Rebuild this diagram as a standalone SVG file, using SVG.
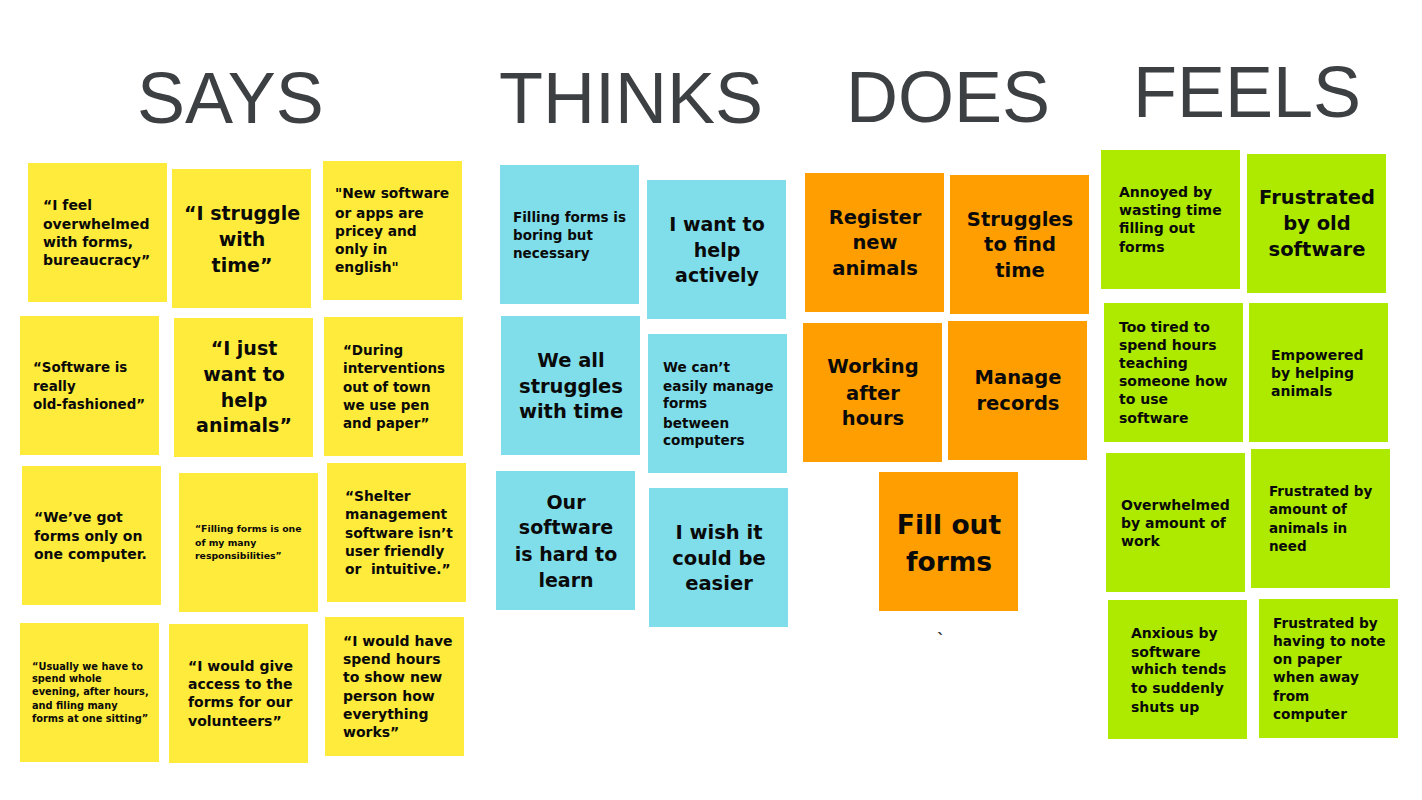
<svg xmlns="http://www.w3.org/2000/svg" width="1422" height="800" viewBox="0 0 1422 800">
<style>
.bg{fill:#ffffff}
.y{fill:#ffeb3b}
.c{fill:#80deea}
.o{fill:#ff9e00}
.g{fill:#aeea00}
.h{font-family:"Liberation Sans",Arial,sans-serif;font-size:72px;fill:#3d4043}
text.n{font-family:"DejaVu Sans","Noto Sans",sans-serif;font-weight:bold;fill:#0a0a0a}
.m{text-anchor:middle}
.pre{white-space:pre}
</style>
<rect class="bg" x="0" y="0" width="1422" height="800"/>
<g id="titles">
<text class="h" x="137" y="123">SAYS</text>
<text class="h" x="499" y="123">THINKS</text>
<text class="h" x="846" y="122">DOES</text>
<text class="h" x="1133" y="117">FEELS</text>
</g>
<g id="says">
<g id="s1"><rect class="y" x="28" y="163" width="139" height="139"/>
<text class="n" font-size="14"><tspan x="43" y="210">“I feel</tspan><tspan x="43" y="229">overwhelmed</tspan><tspan x="43" y="247">with forms,</tspan><tspan x="43" y="265">bureaucracy”</tspan></text></g>
<g id="s2"><rect class="y" x="172" y="169" width="139" height="139"/>
<text class="n m" font-size="19"><tspan x="242" y="220">“I struggle</tspan><tspan x="242" y="246">with</tspan><tspan x="242" y="272">time”</tspan></text></g>
<g id="s3"><rect class="y" x="323" y="161" width="139" height="139"/>
<text class="n" font-size="13.8"><tspan x="335" y="198">"New software</tspan><tspan x="335" y="218">or apps are</tspan><tspan x="335" y="236">pricey and</tspan><tspan x="335" y="254">only in</tspan><tspan x="335" y="272">english"</tspan></text></g>
<g id="s4"><rect class="y" x="20" y="316" width="139" height="139"/>
<text class="n" font-size="13.4"><tspan x="33" y="372">“Software is</tspan><tspan x="33" y="391">really</tspan><tspan x="33" y="409">old-fashioned”</tspan></text></g>
<g id="s5"><rect class="y" x="174" y="318" width="139" height="139"/>
<text class="n m" font-size="19"><tspan x="244" y="355">“I just</tspan><tspan x="244" y="381">want to</tspan><tspan x="244" y="407">help</tspan><tspan x="244" y="432">animals”</tspan></text></g>
<g id="s6"><rect class="y" x="324" y="317" width="139" height="139"/>
<text class="n" font-size="13.5"><tspan x="343" y="355">“During</tspan><tspan x="343" y="373">interventions</tspan><tspan x="343" y="392">out of town</tspan><tspan x="343" y="410">we use pen</tspan><tspan x="343" y="428">and paper”</tspan></text></g>
<g id="s7"><rect class="y" x="22" y="466" width="139" height="139"/>
<text class="n" font-size="14"><tspan x="34" y="522">“We’ve got</tspan><tspan x="34" y="541">forms only on</tspan><tspan x="34" y="559">one computer.</tspan></text></g>
<g id="s8"><rect class="y" x="179" y="473" width="139" height="139"/>
<text class="n" font-size="9.3"><tspan x="195" y="532">“Filling forms is one</tspan><tspan x="195" y="546">of my many</tspan><tspan x="195" y="559">responsibilities”</tspan></text></g>
<g id="s9"><rect class="y" x="327" y="463" width="139" height="139"/>
<text class="n pre" font-size="13.8"><tspan x="345" y="501">“Shelter</tspan><tspan x="345" y="519">management</tspan><tspan x="345" y="538">software isn’t</tspan><tspan x="345" y="556">user friendly</tspan><tspan x="345" y="574">or  intuitive.”</tspan></text></g>
<g id="s10"><rect class="y" x="20" y="623" width="139" height="139"/>
<text class="n" font-size="9.8"><tspan x="32" y="670">“Usually we have to</tspan><tspan x="32" y="682">spend whole</tspan><tspan x="32" y="695">evening, after hours,</tspan><tspan x="32" y="709">and filing many</tspan><tspan x="32" y="722">forms at one sitting”</tspan></text></g>
<g id="s11"><rect class="y" x="169" y="624" width="139" height="139"/>
<text class="n" font-size="14"><tspan x="188" y="671">“I would give</tspan><tspan x="188" y="689">access to the</tspan><tspan x="188" y="707">forms for our</tspan><tspan x="188" y="726">volunteers”</tspan></text></g>
<g id="s12"><rect class="y" x="325" y="617" width="139" height="139"/>
<text class="n" font-size="14"><tspan x="343" y="646">“I would have</tspan><tspan x="343" y="664">spend hours</tspan><tspan x="343" y="682">to show new</tspan><tspan x="343" y="701">person how</tspan><tspan x="343" y="719">everything</tspan><tspan x="343" y="737">works”</tspan></text></g>
</g>
<g id="thinks">
<g id="t1"><rect class="c" x="500" y="165" width="139" height="139"/>
<text class="n" font-size="13.5"><tspan x="513" y="222">Filling forms is</tspan><tspan x="513" y="240">boring but</tspan><tspan x="513" y="258">necessary</tspan></text></g>
<g id="t2"><rect class="c" x="647" y="180" width="139" height="139"/>
<text class="n m" font-size="19"><tspan x="717" y="231">I want to</tspan><tspan x="717" y="257">help</tspan><tspan x="717" y="282">actively</tspan></text></g>
<g id="t3"><rect class="c" x="501" y="316" width="139" height="139"/>
<text class="n m" font-size="19.5"><tspan x="571" y="367">We all</tspan><tspan x="571" y="393">struggles</tspan><tspan x="571" y="418">with time</tspan></text></g>
<g id="t4"><rect class="c" x="648" y="334" width="139" height="139"/>
<text class="n" font-size="13.6"><tspan x="663" y="372">We can’t</tspan><tspan x="663" y="391">easily manage</tspan><tspan x="663" y="408">forms</tspan><tspan x="663" y="428">between</tspan><tspan x="663" y="445">computers</tspan></text></g>
<g id="t5"><rect class="c" x="496" y="471" width="139" height="139"/>
<text class="n m" font-size="19"><tspan x="566" y="509">Our</tspan><tspan x="566" y="534">software</tspan><tspan x="566" y="561">is hard to</tspan><tspan x="566" y="587">learn</tspan></text></g>
<g id="t6"><rect class="c" x="649" y="488" width="139" height="139"/>
<text class="n m" font-size="19.5"><tspan x="719" y="539">I wish it</tspan><tspan x="719" y="565">could be</tspan><tspan x="719" y="590">easier</tspan></text></g>
</g>
<g id="does">
<g id="d1"><rect class="o" x="805" y="173" width="139" height="139"/>
<text class="n m" font-size="19.5"><tspan x="875" y="224">Register</tspan><tspan x="875" y="249">new</tspan><tspan x="875" y="275">animals</tspan></text></g>
<g id="d2"><rect class="o" x="950" y="175" width="139" height="139"/>
<text class="n m" font-size="19.5"><tspan x="1020" y="226">Struggles</tspan><tspan x="1020" y="251">to find</tspan><tspan x="1020" y="277">time</tspan></text></g>
<g id="d3"><rect class="o" x="803" y="323" width="139" height="139"/>
<text class="n m" font-size="19.5"><tspan x="873" y="373">Working</tspan><tspan x="873" y="400">after</tspan><tspan x="873" y="425">hours</tspan></text></g>
<g id="d4"><rect class="o" x="948" y="321" width="139" height="139"/>
<text class="n m" font-size="19.5"><tspan x="1018" y="384">Manage</tspan><tspan x="1018" y="410">records</tspan></text></g>
<g id="d5"><rect class="o" x="879" y="472" width="139" height="139"/>
<text class="n m" font-size="26.5"><tspan x="949" y="534">Fill out</tspan><tspan x="949" y="571">forms</tspan></text></g>
<text x="937" y="645" font-family="DejaVu Sans, sans-serif" font-weight="bold" font-size="16" fill="#333333">`</text>
</g>
<g id="feels">
<g id="f1"><rect class="g" x="1101" y="150" width="139" height="139"/>
<text class="n" font-size="14"><tspan x="1119" y="197">Annoyed by</tspan><tspan x="1119" y="215">wasting time</tspan><tspan x="1119" y="233">filling out</tspan><tspan x="1119" y="252">forms</tspan></text></g>
<g id="f2"><rect class="g" x="1247" y="154" width="139" height="139"/>
<text class="n m" font-size="19.5"><tspan x="1317" y="204">Frustrated</tspan><tspan x="1317" y="230">by old</tspan><tspan x="1317" y="256">software</tspan></text></g>
<g id="f3"><rect class="g" x="1104" y="303" width="139" height="139"/>
<text class="n" font-size="14"><tspan x="1119" y="332">Too tired to</tspan><tspan x="1119" y="350">spend hours</tspan><tspan x="1119" y="368">teaching</tspan><tspan x="1119" y="386">someone how</tspan><tspan x="1119" y="404">to use</tspan><tspan x="1119" y="423">software</tspan></text></g>
<g id="f4"><rect class="g" x="1249" y="303" width="139" height="139"/>
<text class="n" font-size="14"><tspan x="1271" y="360">Empowered</tspan><tspan x="1271" y="378">by helping</tspan><tspan x="1271" y="396">animals</tspan></text></g>
<g id="f5"><rect class="g" x="1106" y="453" width="139" height="139"/>
<text class="n" font-size="14"><tspan x="1121" y="510">Overwhelmed</tspan><tspan x="1121" y="528">by amount of</tspan><tspan x="1121" y="546">work</tspan></text></g>
<g id="f6"><rect class="g" x="1251" y="449" width="139" height="139"/>
<text class="n" font-size="13.5"><tspan x="1269" y="496">Frustrated by</tspan><tspan x="1269" y="514">amount of</tspan><tspan x="1269" y="533">animals in</tspan><tspan x="1269" y="551">need</tspan></text></g>
<g id="f7"><rect class="g" x="1108" y="600" width="139" height="139"/>
<text class="n" font-size="14"><tspan x="1131" y="638">Anxious by</tspan><tspan x="1131" y="657">software</tspan><tspan x="1131" y="674">which tends</tspan><tspan x="1131" y="693">to suddenly</tspan><tspan x="1131" y="712">shuts up</tspan></text></g>
<g id="f8"><rect class="g" x="1259" y="599" width="139" height="139"/>
<text class="n" font-size="13.7"><tspan x="1273" y="628">Frustrated by</tspan><tspan x="1273" y="646">having to note</tspan><tspan x="1273" y="664">on paper</tspan><tspan x="1273" y="682">when away</tspan><tspan x="1273" y="701">from</tspan><tspan x="1273" y="719">computer</tspan></text></g>
</g>
</svg>
